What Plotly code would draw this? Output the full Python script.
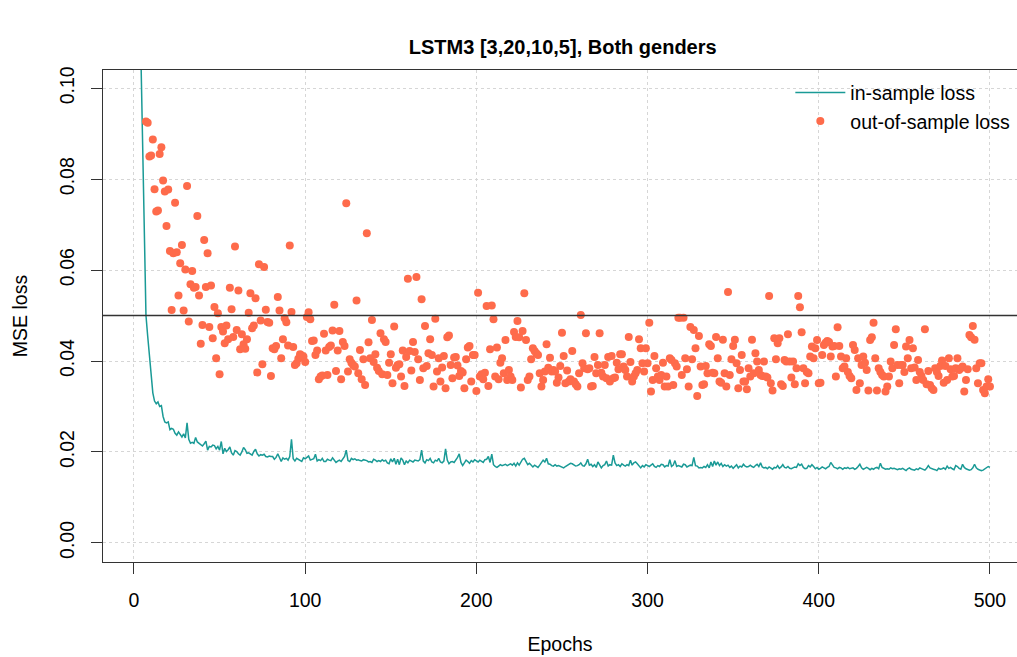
import plotly.graph_objects as go

# ---------------- data ----------------
epochs = list(range(1, 501))

in_sample_loss = [
    0.4500, 0.2200, 0.1400, 0.1080, 0.0870, 0.0680, 0.0500, 0.0455, 0.0415, 0.0370,
    0.0330, 0.0312, 0.0306, 0.0310, 0.0300, 0.0302, 0.0278, 0.0266, 0.0264, 0.0266,
    0.0249, 0.0252, 0.0250, 0.0241, 0.0237, 0.0244, 0.0238, 0.0233, 0.0240, 0.0231,
    0.0264, 0.0228, 0.0219, 0.0221, 0.0219, 0.0232, 0.0222, 0.0219, 0.0214, 0.0213,
    0.0218, 0.0224, 0.0204, 0.0212, 0.0211, 0.0215, 0.0214, 0.0207, 0.0212, 0.0204,
    0.0223, 0.0196, 0.0208, 0.0201, 0.0205, 0.0211, 0.0198, 0.0193, 0.0203, 0.0201,
    0.0196, 0.0193, 0.0200, 0.0210, 0.0205, 0.0197, 0.0198, 0.0195, 0.0193, 0.0201,
    0.0206, 0.0196, 0.0191, 0.0194, 0.0193, 0.0195, 0.0190, 0.0189, 0.0191, 0.0190,
    0.0190, 0.0184, 0.0188, 0.0196, 0.0185, 0.0179, 0.0187, 0.0184, 0.0186, 0.0182,
    0.0190, 0.0228, 0.0185, 0.0180, 0.0186, 0.0184, 0.0182, 0.0179, 0.0187, 0.0185,
    0.0188, 0.0191, 0.0182, 0.0183, 0.0185, 0.0195, 0.0180, 0.0183, 0.0181, 0.0186,
    0.0179, 0.0179, 0.0184, 0.0182, 0.0181, 0.0187, 0.0183, 0.0177, 0.0180, 0.0182,
    0.0179, 0.0186, 0.0190, 0.0204, 0.0181, 0.0179, 0.0186, 0.0183, 0.0185, 0.0182,
    0.0183, 0.0181, 0.0180, 0.0183, 0.0182, 0.0181, 0.0178, 0.0179, 0.0177, 0.0184,
    0.0182, 0.0179, 0.0181, 0.0179, 0.0183, 0.0180, 0.0182, 0.0176, 0.0174, 0.0185,
    0.0178, 0.0186, 0.0173, 0.0184, 0.0172, 0.0187, 0.0182, 0.0172, 0.0180, 0.0176,
    0.0182, 0.0179, 0.0178, 0.0182, 0.0181, 0.0180, 0.0183, 0.0204, 0.0180, 0.0176,
    0.0183, 0.0181, 0.0186, 0.0178, 0.0176, 0.0182, 0.0180, 0.0186, 0.0178, 0.0176,
    0.0180, 0.0207, 0.0182, 0.0174, 0.0178, 0.0179, 0.0177, 0.0182, 0.0188, 0.0196,
    0.0177, 0.0170, 0.0176, 0.0182, 0.0179, 0.0175, 0.0181, 0.0178, 0.0183, 0.0181,
    0.0178, 0.0182, 0.0180, 0.0177, 0.0183, 0.0184, 0.0190, 0.0177, 0.0195, 0.0172,
    0.0168, 0.0166, 0.0169, 0.0172, 0.0170, 0.0171, 0.0173, 0.0170, 0.0172, 0.0174,
    0.0171, 0.0175, 0.0169, 0.0176, 0.0171, 0.0179, 0.0184, 0.0186, 0.0180, 0.0172,
    0.0175, 0.0170, 0.0167, 0.0171, 0.0168, 0.0166, 0.0171, 0.0176, 0.0182, 0.0178,
    0.0186, 0.0174, 0.0173, 0.0170, 0.0169, 0.0172, 0.0169, 0.0170, 0.0168, 0.0166,
    0.0165, 0.0168, 0.0171, 0.0173, 0.0175, 0.0174, 0.0171, 0.0169, 0.0170, 0.0172,
    0.0176, 0.0170, 0.0169, 0.0174, 0.0184, 0.0171, 0.0173, 0.0168, 0.0172, 0.0166,
    0.0178, 0.0171, 0.0165, 0.0170, 0.0172, 0.0180, 0.0169, 0.0172, 0.0171, 0.0193,
    0.0176, 0.0170, 0.0172, 0.0168, 0.0174, 0.0171, 0.0169, 0.0172, 0.0170, 0.0182,
    0.0171, 0.0176, 0.0178, 0.0174, 0.0168, 0.0165, 0.0170, 0.0167, 0.0172, 0.0169,
    0.0168, 0.0171, 0.0174, 0.0168, 0.0166, 0.0170, 0.0168, 0.0173, 0.0172, 0.0167,
    0.0170, 0.0169, 0.0183, 0.0168, 0.0171, 0.0181, 0.0168, 0.0170, 0.0169, 0.0167,
    0.0173, 0.0172, 0.0167, 0.0169, 0.0171, 0.0170, 0.0188, 0.0170, 0.0169, 0.0165,
    0.0166, 0.0165, 0.0168, 0.0166, 0.0172, 0.0165, 0.0178, 0.0168, 0.0180, 0.0171,
    0.0178, 0.0170, 0.0175, 0.0168, 0.0172, 0.0169, 0.0171, 0.0166, 0.0169, 0.0164,
    0.0168, 0.0172, 0.0165, 0.0169, 0.0167, 0.0173, 0.0169, 0.0167, 0.0168, 0.0171,
    0.0168, 0.0166, 0.0170, 0.0173, 0.0168, 0.0176, 0.0167, 0.0165, 0.0166, 0.0163,
    0.0167, 0.0164, 0.0162, 0.0166, 0.0165, 0.0170, 0.0164, 0.0167, 0.0172, 0.0166,
    0.0165, 0.0168, 0.0164, 0.0163, 0.0165, 0.0167, 0.0166, 0.0174, 0.0170, 0.0173,
    0.0166, 0.0163, 0.0164, 0.0170, 0.0167, 0.0172, 0.0168, 0.0163, 0.0166, 0.0162,
    0.0164, 0.0167, 0.0165, 0.0163, 0.0166, 0.0168, 0.0177, 0.0170, 0.0166, 0.0165,
    0.0163, 0.0166, 0.0165, 0.0162, 0.0165, 0.0164, 0.0166, 0.0163, 0.0164, 0.0165,
    0.0162, 0.0164, 0.0168, 0.0173, 0.0165, 0.0162, 0.0164, 0.0166, 0.0164, 0.0161,
    0.0164, 0.0162, 0.0165, 0.0166, 0.0163, 0.0175, 0.0166, 0.0164, 0.0162, 0.0163,
    0.0162, 0.0165, 0.0163, 0.0164, 0.0162, 0.0161, 0.0163, 0.0162, 0.0164, 0.0161,
    0.0159, 0.0163, 0.0165, 0.0162, 0.0161, 0.0160, 0.0163, 0.0161, 0.0165, 0.0163,
    0.0162, 0.0160, 0.0164, 0.0170, 0.0165, 0.0163, 0.0162, 0.0161, 0.0159, 0.0164,
    0.0162, 0.0163, 0.0165, 0.0162, 0.0169, 0.0164, 0.0166, 0.0163, 0.0161, 0.0170,
    0.0168, 0.0164, 0.0162, 0.0173, 0.0166, 0.0163, 0.0162, 0.0160, 0.0161, 0.0165,
    0.0173, 0.0165, 0.0162, 0.0161, 0.0159, 0.0160, 0.0163, 0.0167, 0.0168, 0.0166,
]

out_of_sample_loss = [
    0.3200, 0.2100, 0.1600, 0.1350, 0.1180, 0.1080,
    0.0927, 0.0924, 0.0850, 0.0852, 0.0887, 0.0778, 0.0729, 0.0731, 0.0855, 0.0870,
    0.0797, 0.0773, 0.0697, 0.0777, 0.0642, 0.0512, 0.0637, 0.0748, 0.0639, 0.0544,
    0.0615, 0.0655, 0.0511, 0.0601, 0.0785, 0.0487, 0.0569, 0.0598, 0.0561, 0.0563,
    0.0719, 0.0544, 0.0438, 0.0479, 0.0666, 0.0563, 0.0637, 0.0475, 0.0566, 0.0450,
    0.0519, 0.0406, 0.0505, 0.0371, 0.0475, 0.0465, 0.0439, 0.0478, 0.0448, 0.0561,
    0.0514, 0.0453, 0.0652, 0.0468, 0.0555, 0.0426, 0.0459, 0.0437, 0.0427, 0.0448,
    0.0506, 0.0549, 0.0472, 0.0478, 0.0538, 0.0375, 0.0613, 0.0489, 0.0393, 0.0607,
    0.0513, 0.0486, 0.0484, 0.0367, 0.0428, 0.0426, 0.0433, 0.0541, 0.0511, 0.0406,
    0.0448, 0.0494, 0.0485, 0.0434, 0.0654, 0.0508, 0.0431, 0.0391, 0.0395, 0.0405,
    0.0415, 0.0412, 0.0410, 0.0398, 0.0497, 0.0507, 0.0492, 0.0444, 0.0445, 0.0413,
    0.0423, 0.0360,
    0.0366, 0.0368, 0.0460, 0.0423, 0.0369, 0.0431, 0.0434, 0.0467, 0.0524, 0.0378,
    0.0423, 0.0466, 0.0360, 0.0442, 0.0433, 0.0747, 0.0377, 0.0404, 0.0396, 0.0391,
    0.0388, 0.0533, 0.0373, 0.0424, 0.0360, 0.0404, 0.0347, 0.0681, 0.0441, 0.0406,
    0.0490, 0.0398, 0.0415, 0.0385, 0.0378, 0.0461, 0.0371, 0.0448, 0.0442, 0.0369,
    0.0396, 0.0415, 0.0351, 0.0476, 0.0385, 0.0391, 0.0393, 0.0366, 0.0423, 0.0345,
    0.0409, 0.0581, 0.0422, 0.0379, 0.0442, 0.0420, 0.0585, 0.0404, 0.0358, 0.0536,
    0.0384, 0.0477, 0.0389, 0.0417, 0.0448, 0.0413, 0.0344, 0.0493, 0.0377, 0.0406,
    0.0355, 0.0386, 0.0411, 0.0340, 0.0452, 0.0456, 0.0391, 0.0362, 0.0408, 0.0409,
    0.0390, 0.0367, 0.0378, 0.0375, 0.0340, 0.0404, 0.0430, 0.0433, 0.0355, 0.0413,
    0.0413, 0.0334, 0.0550, 0.0366, 0.0371, 0.0360, 0.0374, 0.0521, 0.0345, 0.0426,
    0.0522, 0.0492, 0.0366, 0.0430, 0.0360, 0.0396, 0.0406, 0.0373, 0.0446, 0.0358,
    0.0380, 0.0366, 0.0358, 0.0464, 0.0453, 0.0488,
    0.0452, 0.0342, 0.0466, 0.0549, 0.0446, 0.0358, 0.0366, 0.0404, 0.0428, 0.0422,
    0.0417, 0.0413, 0.0373, 0.0344, 0.0358, 0.0377, 0.0437, 0.0385, 0.0407, 0.0377,
    0.0380, 0.0377, 0.0352, 0.0364, 0.0389, 0.0462, 0.0411, 0.0351, 0.0379, 0.0355,
    0.0360, 0.0422, 0.0355, 0.0349, 0.0344, 0.0373, 0.0501, 0.0395, 0.0384, 0.0461,
    0.0382, 0.0384, 0.0344, 0.0345, 0.0409, 0.0373, 0.0391, 0.0461, 0.0374, 0.0366,
    0.0391, 0.0362, 0.0409, 0.0355, 0.0411, 0.0362, 0.0364, 0.0396, 0.0382, 0.0415,
    0.0415, 0.0388, 0.0380, 0.0366, 0.0453, 0.0398, 0.0355, 0.0366, 0.0373, 0.0380,
    0.0448, 0.0428, 0.0395, 0.0377, 0.0428, 0.0395, 0.0484, 0.0333, 0.0358, 0.0411,
    0.0384, 0.0366, 0.0358, 0.0369, 0.0396, 0.0344, 0.0366, 0.0344, 0.0406, 0.0402,
    0.0347, 0.0395, 0.0388, 0.0495, 0.0495, 0.0369, 0.0495, 0.0406, 0.0382, 0.0344,
    0.0475, 0.0404, 0.0468, 0.0428, 0.0323, 0.0455, 0.0388, 0.0347, 0.0349, 0.0389,
    0.0373, 0.0437, 0.0433, 0.0374, 0.0373, 0.0453, 0.0406, 0.0355,
    0.0352, 0.0447, 0.0373, 0.0344, 0.0552, 0.0369, 0.0404, 0.0433, 0.0447, 0.0395,
    0.0340, 0.0380, 0.0413, 0.0355, 0.0355, 0.0338, 0.0384, 0.0366, 0.0447, 0.0373,
    0.0417, 0.0399, 0.0380, 0.0369, 0.0367, 0.0399, 0.0366, 0.0364, 0.0543, 0.0351,
    0.0335, 0.0450, 0.0404, 0.0439, 0.0450, 0.0349, 0.0345, 0.0402, 0.0399, 0.0459,
    0.0399, 0.0364, 0.0399, 0.0349, 0.0384, 0.0543, 0.0518, 0.0463, 0.0384, 0.0351,
    0.0376, 0.0373, 0.0410, 0.0432, 0.0406, 0.0428, 0.0446, 0.0351, 0.0352, 0.0413,
    0.0435, 0.0440, 0.0444, 0.0442, 0.0410, 0.0432, 0.0433, 0.0366, 0.0474, 0.0433,
    0.0410, 0.0384, 0.0388, 0.0406, 0.0376, 0.0367, 0.0362, 0.0435, 0.0424, 0.0336,
    0.0406, 0.0351, 0.0391, 0.0410, 0.0396, 0.0380, 0.0335, 0.0446, 0.0452, 0.0484,
    0.0406, 0.0335, 0.0384, 0.0376, 0.0369, 0.0366, 0.0333, 0.0344, 0.0366, 0.0399,
    0.0384, 0.0435, 0.0470, 0.0391, 0.0351, 0.0391, 0.0391, 0.0376, 0.0432, 0.0406,
    0.0446, 0.0384, 0.0428, 0.0386, 0.0358, 0.0402, 0.0376, 0.0367, 0.0358, 0.0470,
    0.0349, 0.0378, 0.0347, 0.0340, 0.0336, 0.0384, 0.0376, 0.0367, 0.0389, 0.0401,
    0.0352, 0.0389, 0.0358, 0.0406, 0.0382, 0.0366, 0.0367, 0.0384, 0.0406, 0.0380,
    0.0384, 0.0388, 0.0333, 0.0358, 0.0382, 0.0457, 0.0452, 0.0477, 0.0447, 0.0384,
    0.0351, 0.0395, 0.0395, 0.0336, 0.0329, 0.0344, 0.0360, 0.0344,
]

x_ticks = [0, 100, 200, 300, 400, 500]
y_ticks = [0.00, 0.02, 0.04, 0.06, 0.08, 0.10]
y_tick_labels = ["0.00", "0.02", "0.04", "0.06", "0.08", "0.10"]
reference_level = 0.05

title_text = "LSTM3 [3,20,10,5], Both genders"
x_title = "Epochs"
y_title = "MSE loss"

# ---------------- styling ----------------
FONT = "Liberation Sans, Arial, Helvetica, sans-serif"
FS = 19.5
LINE_COLOR = "#1a9a96"
POINT_COLOR = "#fe6b4b"
AXIS_COLOR = "#333333"
GRID_COLOR = "#d6d6d6"

fig = go.Figure()
fig.add_trace(go.Scatter(
    x=epochs, y=in_sample_loss, mode="lines", name="in-sample loss",
    line=dict(color=LINE_COLOR, width=1.5),
))
fig.add_trace(go.Scatter(
    x=epochs, y=out_of_sample_loss, mode="markers", name="out-of-sample loss",
    marker=dict(color=POINT_COLOR, size=8, line=dict(width=0)),
))

fig.add_shape(type="line", xref="paper", x0=0, x1=1, yref="y",
              y0=reference_level, y1=reference_level,
              line=dict(color="#333333", width=1.6), layer="above")

fig.update_layout(
    width=1017, height=657,
    margin=dict(l=103, r=0, t=70, b=95, autoexpand=False),
    paper_bgcolor="white", plot_bgcolor="white",
    font=dict(family=FONT, size=FS, color="black"),
    title=dict(text="<b>" + title_text + "</b>", x=0.503, xref="paper", xanchor="center",
               y=1 - 47 / 657, yref="container", yanchor="middle",
               font=dict(family=FONT, size=20, color="black")),
    showlegend=True,
    legend=dict(x=0.752, xanchor="left", y=0.993, yanchor="top",
                bgcolor="rgba(0,0,0,0)", borderwidth=0,
                font=dict(family=FONT, size=FS, color="black"),
                itemwidth=50, tracegroupgap=0),
    xaxis=dict(
        range=[-18.1, 515.8], tickmode="array", tickvals=x_ticks,
        ticks="outside", ticklen=11, tickwidth=1, tickcolor=AXIS_COLOR,
        showline=True, linecolor=AXIS_COLOR, linewidth=1, mirror=True,
        showgrid=True, gridcolor=GRID_COLOR, griddash="dot", gridwidth=1,
        zeroline=False, tickfont=dict(family=FONT, size=FS, color="black"),
        ticklabelstandoff=10,
        title=dict(text=x_title, font=dict(family=FONT, size=FS, color="black"), standoff=26),
    ),
    yaxis=dict(
        range=[-0.0042, 0.1040], tickmode="array", tickvals=y_ticks, ticktext=y_tick_labels,
        tickangle=-90,
        ticks="outside", ticklen=11, tickwidth=1, tickcolor=AXIS_COLOR,
        showline=True, linecolor=AXIS_COLOR, linewidth=1, mirror=False,
        showgrid=True, gridcolor=GRID_COLOR, griddash="dot", gridwidth=1,
        zeroline=False, tickfont=dict(family=FONT, size=FS, color="black"),
        ticklabelstandoff=9,
        title=dict(text=y_title, font=dict(family=FONT, size=FS, color="black"), standoff=23),
    ),
)

fig.write_html("out.html")
